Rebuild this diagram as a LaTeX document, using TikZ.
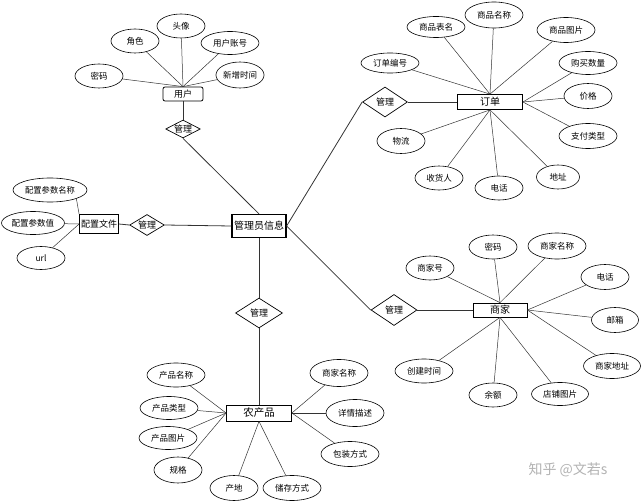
\documentclass[tikz,border=0pt]{standalone}
\usepackage{fontspec}
\setmainfont{Noto Sans CJK SC}
\usetikzlibrary{shapes.geometric}
\tikzset{
    entitybox/.style={draw,rectangle,line width=0.8pt,inner sep=0pt,font=\fontsize{10}{11}\selectfont},
    attrell/.style={draw,ellipse,line width=0.6pt,minimum width=48pt,minimum height=24pt,inner sep=0pt,font=\fontsize{8.5}{10}\selectfont},
    wideattr/.style={attrell,minimum width=58pt},
    reldiam/.style={draw,diamond,aspect=2,line width=0.7pt,inner sep=0pt,font=\fontsize{9}{10}\selectfont},
    attrline/.style={line width=0.5pt,black!80},
    relline/.style={line width=0.8pt,black!80},
    watermark/.style={text=black!30,font=\fontsize{14}{16}\selectfont}
}

\begin{document}
\begin{tikzpicture}[x=1pt,y=-1pt]
    \useasboundingbox (0,0) rectangle (643,503);
    % Admin
    \node[entitybox,line width=1.2pt,minimum width=54pt,minimum height=23pt] (admin) at (259,226) {管理员信息};
    % User
    \node[entitybox,rounded corners=2pt,minimum width=40pt,minimum height=14pt,font=\fontsize{9}{10}\selectfont] (user) at (183,94) {用户};
    \node[attrell] (upwd) at (99,76) {密码};
    \node[attrell] (urole) at (135,41) {角色};
    \node[attrell] (uavatar) at (181,26) {头像};
    \node[wideattr,minimum height=23pt] (uacct) at (230,43) {用户账号};
    \node[attrell,minimum height=26pt] (utime) at (240,75) {新增时间};
    \node[reldiam,minimum width=34pt,minimum height=18pt] (ruser) at (183,129) {管理};
    \draw[attrline] (upwd) -- (user.north);
    \draw[attrline] (urole) -- (user.north);
    \draw[attrline] (uavatar) -- (user.north);
    \draw[attrline] (uacct) -- (user.north);
    \draw[attrline] (utime) -- (user.north);
    \draw[relline] (user) -- (ruser);
    \draw[relline] (ruser.south) -- (admin.north);
    % Order
    \node[entitybox,minimum width=65pt,minimum height=15pt] (order) at (490,102) {订单};
    \node[wideattr,minimum height=21pt] (otable) at (436,27) {商品表名};
    \node[wideattr,minimum height=26pt] (oname) at (494,15) {商品名称};
    \node[wideattr,minimum height=25pt] (opic) at (566,30) {商品图片};
    \node[wideattr,minimum height=20pt] (ono) at (390,63) {订单编号};
    \node[wideattr,minimum height=23pt] (oqty) at (588,63) {购买数量};
    \node[attrell,minimum height=25pt] (oprice) at (588,96) {价格};
    \node[wideattr,minimum height=25pt] (opay) at (588,136) {支付类型};
    \node[attrell,minimum height=25pt] (oship) at (401,141) {物流};
    \node[attrell] (orecv) at (439,178) {收货人};
    \node[attrell] (otel) at (499,188) {电话};
    \node[attrell,minimum width=43pt] (oaddr) at (558,177) {地址};
    \node[reldiam,minimum width=45pt,minimum height=30pt] (rorder) at (385,102) {管理};
    \draw[attrline] (ono) -- (order.north);
    \draw[attrline] (otable) -- (order.north);
    \draw[attrline] (oname) -- (order.north);
    \draw[attrline] (opic) -- (order.north);
    \draw[attrline] (oqty) -- (order.east);
    \draw[attrline] (oprice) -- (order.east);
    \draw[attrline] (opay) -- (order.east);
    \draw[attrline] (oship) -- (order.south);
    \draw[attrline] (orecv) -- (order.south);
    \draw[attrline] (otel) -- (order.south);
    \draw[attrline] (oaddr) -- (order.south);
    \draw[relline] (rorder.east) -- (order.west);
    \draw[relline] (admin.east) -- (rorder.west);
    % Config
    \node[entitybox,minimum width=39pt,minimum height=19pt,font=\fontsize{9}{10}\selectfont] (cfg) at (99,224) {配置文件};
    \node[attrell,minimum width=74pt,font=\fontsize{8.3}{10}\selectfont] (cname) at (50,190) {配置参数名称};
    \node[attrell,minimum width=63pt,minimum height=23pt] (cval) at (33,223) {配置参数值};
    \node[attrell,minimum height=23pt] (curl) at (41,258) {url};
    \node[reldiam,minimum width=34pt,minimum height=21pt] (rcfg) at (147,225) {管理};
    \draw[attrline] (cname.south east) -- (cfg.north west);
    \draw[attrline] (cval) -- (cfg.west);
    \draw[attrline] (curl) -- (cfg.west);
    \draw[relline] (cfg.east) -- (rcfg.west);
    \draw[relline] (rcfg.east) -- (admin.west);
    % Merchant
    \node[entitybox,minimum width=54pt,minimum height=14pt] (shop) at (500,310) {商家};
    \node[attrell] (spwd) at (493,247) {密码};
    \node[wideattr,minimum height=26pt] (sname) at (557,246) {商家名称};
    \node[attrell] (sno) at (430,268) {商家号};
    \node[attrell,minimum height=25pt] (stel) at (605,277) {电话};
    \node[attrell,minimum width=47pt,minimum height=25pt] (smail) at (615,320) {邮箱};
    \node[wideattr,minimum width=57pt,minimum height=25pt] (saddr) at (612,366) {商家地址};
    \node[wideattr] (stime) at (424,371) {创建时间};
    \node[attrell] (sbal) at (493,395) {余额};
    \node[wideattr,minimum width=57pt,minimum height=23pt] (spic) at (560,394) {店铺图片};
    \node[reldiam,minimum width=46pt,minimum height=31pt] (rshop) at (394,310) {管理};
    \draw[attrline] (spwd) -- (shop.north);
    \draw[attrline] (sname) -- (shop.north);
    \draw[attrline] (sno) -- (shop.north);
    \draw[attrline] (stel) -- (shop.east);
    \draw[attrline] (smail) -- (shop.east);
    \draw[attrline] (saddr) -- (shop.east);
    \draw[attrline] (stime) -- (shop.south);
    \draw[attrline] (sbal) -- (shop.south);
    \draw[attrline] (spic) -- (shop.south);
    \draw[relline] (rshop.east) -- (shop.west);
    \draw[relline] (admin.east) -- (rshop.west);
    % Product
    \node[entitybox,minimum width=65pt,minimum height=16pt,font=\fontsize{10.5}{12}\selectfont] (prod) at (259,413) {农产品};
    \node[wideattr] (pname) at (176,375) {产品名称};
    \node[wideattr,minimum height=23pt] (ptype) at (169,408) {产品类型};
    \node[wideattr,minimum height=23pt] (ppic) at (168,438) {产品图片};
    \node[attrell,minimum height=26pt] (pspec) at (178,470) {规格};
    \node[attrell,minimum height=25pt] (porig) at (234,488) {产地};
    \node[wideattr,minimum height=25pt] (pstore) at (292,488) {储存方式};
    \node[wideattr,minimum height=27pt] (pshop) at (339,373) {商家名称};
    \node[wideattr,minimum height=27pt] (pdesc) at (355,413) {详情描述};
    \node[wideattr,minimum height=25pt] (ppack) at (350,454) {包装方式};
    \node[reldiam,minimum width=47pt,minimum height=30pt] (rprod) at (259,313) {管理};
    \draw[attrline] (pname) -- (prod.west);
    \draw[attrline] (ptype) -- (prod.west);
    \draw[attrline] (ppic) -- (prod.west);
    \draw[attrline] (pspec) -- (prod.west);
    \draw[attrline] (porig) -- (prod.south);
    \draw[attrline] (pstore) -- (prod.south);
    \draw[attrline] (pshop) -- (prod.east);
    \draw[attrline] (pdesc) -- (prod.east);
    \draw[attrline] (ppack) -- (prod.east);
    \draw[relline] (admin.south) -- (rprod.north);
    \draw[relline] (rprod.south) -- (prod.north);
    % Mark
    \node[watermark] (mark) at (568,470) {知乎 @文若s};
\end{tikzpicture}
\end{document}
